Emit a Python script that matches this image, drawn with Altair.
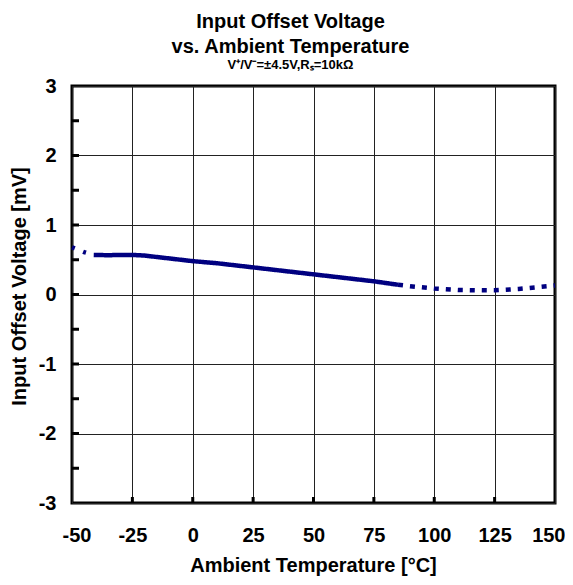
import altair as alt
import pandas as pd

# Curve data
temps = [-50, -45, -41, -35, -30, -25, -20, -10, 0, 10, 25, 40, 50, 60, 75, 85, 90, 100, 110, 120, 125, 135, 150]
volts = [0.68, 0.61, 0.57, 0.565, 0.57, 0.57, 0.56, 0.52, 0.48, 0.45, 0.39, 0.33, 0.29, 0.25, 0.19, 0.14, 0.12, 0.085, 0.065, 0.06, 0.06, 0.08, 0.13]

x_ticks = [-50, -25, 0, 25, 50, 75, 100, 125, 150]
y_ticks = [-3, -2, -1, 0, 1, 2, 3]
y_minor = [-2.5, -2, -1.5, -1, -0.5, 0, 0.5, 1, 1.5, 2, 2.5]
x_minor = [-25, 0, 25, 50, 75, 100, 125]

rows = []
for t, v in zip(temps, volts):
    if t <= -41:
        rows.append({"t": t, "v": v, "seg": "left"})
    if -41 <= t <= 85:
        rows.append({"t": t, "v": v, "seg": "mid"})
    if t >= 85:
        rows.append({"t": t, "v": v, "seg": "right"})
df = pd.DataFrame(rows)

FONT = "Liberation Sans"
W, H = 483, 417

xs = alt.Scale(domain=[-50, 150], nice=False, zero=False)
ys = alt.Scale(domain=[-3, 3], nice=False, zero=False)

line = alt.Chart(df).mark_line(color="#000080", strokeWidth=4.5, strokeCap="butt").encode(
    x=alt.X("t:Q", scale=xs,
            axis=alt.Axis(values=x_ticks, title="Ambient Temperature [°C]", titleX=241, titleY=52,
                          labelExpr="datum.value + ''", labelPadding=22, grid=True,
                          labelFlush=True, labelFlushOffset=10)),
    y=alt.Y("v:Q", scale=ys,
            axis=alt.Axis(values=y_ticks, title="Input Offset Voltage [mV]", titleX=-53,
                          titleY=200, titleBaseline="middle",
                          labelExpr="datum.value + ''", labelPadding=16, grid=True)),
    detail="seg:N",
    strokeDash=alt.StrokeDash("seg:N", scale=alt.Scale(domain=["left", "mid", "right"],
                                                       range=[[3, 9], [1, 0], [5, 7]]),
                              legend=None),
)

yt = alt.Chart(pd.DataFrame({"v": y_minor})).mark_rule(color="black", strokeWidth=3).encode(
    y=alt.Y("v:Q", scale=ys), x=alt.value(0), x2=alt.value(7)
)
xt = alt.Chart(pd.DataFrame({"t": x_minor})).mark_rule(color="black", strokeWidth=3).encode(
    x=alt.X("t:Q", scale=xs), y=alt.value(H), y2=alt.value(H - 6)
)

chart = alt.layer(line, yt, xt).properties(
    width=W, height=H,
    title=alt.TitleParams(
        text=["Input Offset Voltage", "vs. Ambient Temperature"],
        subtitle="V⁺/V⁻=±4.5V,Rₛ=10kΩ",
        font=FONT, fontSize=20, fontWeight="bold", lineHeight=25, color="black",
        subtitleFont=FONT, subtitleFontSize=13, subtitleFontWeight="bold", subtitleColor="black",
        subtitlePadding=2, anchor="middle", dx=-23, offset=4,
    ),
    autosize=alt.AutoSizeParams(type="none"),
    padding={"left": 64, "top": 78, "right": 10, "bottom": 73},
).configure_view(
    stroke="black", strokeWidth=3
).configure_axis(
    domain=False, ticks=False, gridColor="#222222", gridWidth=1, gridOpacity=1,
    labelFont=FONT, labelFontSize=20, labelFontWeight="bold", labelColor="black",
    titleFont=FONT, titleFontSize=20, titleFontWeight="bold", titleColor="black",
)

chart.save("out.html", embed_options={"renderer": "svg", "actions": False})
